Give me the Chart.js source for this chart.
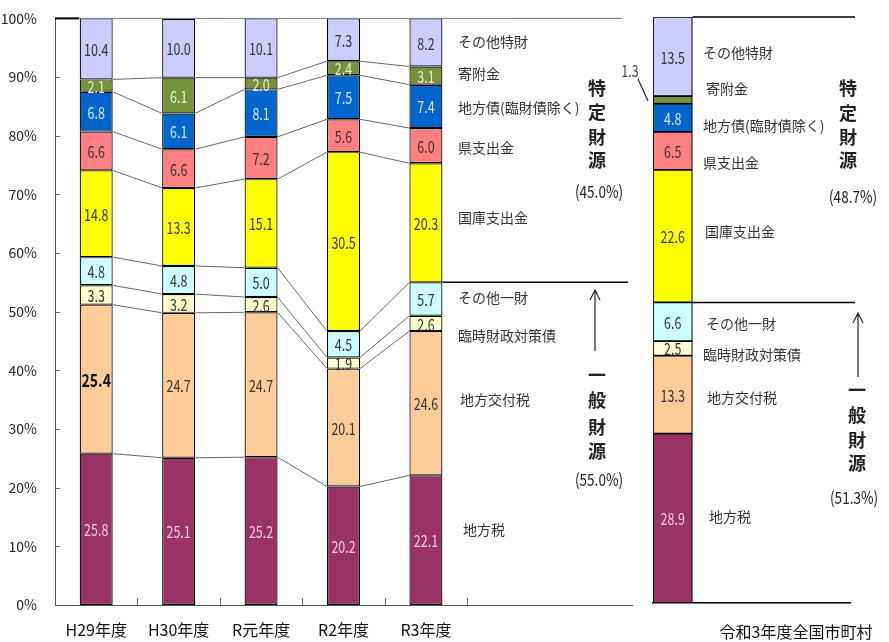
<!DOCTYPE html>
<html>
<head>
<meta charset="utf-8">
<script src="https://cdn.jsdelivr.net/npm/chart.js@4"></script>
<style>
html,body{margin:0;padding:0;background:#fff;}
#wrap{position:relative;width:889px;height:642px;overflow:hidden;}
#c1{position:absolute;left:0;top:0;}
#c2{position:absolute;left:610px;top:0;}
</style>
</head>
<body>
<div id="wrap">
<canvas id="c1" width="640" height="642"></canvas>
<canvas id="c2" width="279" height="642"></canvas>
</div>
<script>
// categories
const years = ['H29年度', 'H30年度', 'R元年度', 'R2年度', 'R3年度'];
const nationLabel = '令和3年度全国市町村';
const items = ['地方税', '地方交付税', '臨時財政対策債', 'その他一財', '国庫支出金', '県支出金', '地方債(臨財債除く)', '寄附金', 'その他特財'];

// series values (%), bottom to top
const localTax      = [25.8, 25.1, 25.2, 20.2, 22.1];
const allocationTax = [25.4, 24.7, 24.7, 20.1, 24.6];
const rinzaiBonds   = [3.3, 3.2, 2.6, 1.9, 2.6];
const otherGeneral  = [4.8, 4.8, 5.0, 4.5, 5.7];
const treasury      = [14.8, 13.3, 15.1, 30.5, 20.3];
const prefecture    = [6.6, 6.6, 7.2, 5.6, 6.0];
const localBonds    = [6.8, 6.1, 8.1, 7.5, 7.4];
const donations     = [2.1, 6.1, 2.0, 2.4, 3.1];
const otherSpecific = [10.4, 10.0, 10.1, 7.3, 8.2];

// 令和3年度全国市町村, same order as items
const nation = [28.9, 13.3, 2.5, 6.6, 22.6, 6.5, 4.8, 1.3, 13.5];

// tick labels
const yTicks = ['0%', '10%', '20%', '30%', '40%', '50%', '60%', '70%', '80%', '90%', '100%'];

const series = [localTax, allocationTax, rinzaiBonds, otherGeneral, treasury, prefecture, localBonds, donations, otherSpecific];
const colors = ['#993366', '#FFCC99', '#FFFFCC', '#CCFFFF', '#FFFF00', '#FF8080', '#0066CC', '#76923C', '#CCCCFF'];
const textColors = ['#F4CDEA', '#333', '#333', '#333', '#333', '#333', '#D6E8FF', '#E8EDD6', '#333'];

const JP = "'Noto Sans CJK JP', sans-serif";

const sum = arr => Math.round(arr.reduce((a, b) => a + b, 0) * 10) / 10;
const last = years.length - 1;
const r3General = sum(series.slice(0, 4).map(s => s[last]));
const nationGeneral = sum(nation.slice(0, 4));

// the original uses a tall narrow face, so squeeze the text a bit
function narrowText(ctx, str, x, y, sx) {
  ctx.save();
  ctx.translate(x, y);
  ctx.scale(sx || 0.8, 1);
  ctx.fillText(str, 0, 0);
  ctx.restore();
}

/*
-------------------------------------
/// plugins
-------------------------------------
*/
const valueLabels = {
  id: 'valueLabels',
  afterDatasetsDraw(chart) {
    const ctx = chart.ctx;
    ctx.save();
    ctx.textAlign = 'center';
    ctx.textBaseline = 'middle';
    chart.data.datasets.forEach((ds, di) => {
      chart.getDatasetMeta(di).data.forEach((el, i) => {
        const v = ds.data[i];
        if (v == null || v < 1.5) return;
        let font = '16px ' + JP;
        let col = textColors[di];
        // H29 地方交付税 is emphasised in the original
        if (chart.canvas.id === 'c1' && di === 1 && i === 0) {
          font = 'bold 18px ' + JP;
          col = '#111';
        }
        ctx.font = font;
        ctx.fillStyle = col;
        narrowText(ctx, v.toFixed(1), el.x, (el.y + el.base) / 2 + 1, 0.78);
      });
    });
    ctx.restore();
  }
};

const connectors = {
  id: 'connectors',
  beforeDatasetsDraw(chart) {
    const ctx = chart.ctx;
    ctx.save();
    ctx.strokeStyle = '#666';
    ctx.lineWidth = 1;
    for (let di = 0; di < chart.data.datasets.length - 1; di++) {
      const els = chart.getDatasetMeta(di).data;
      for (let i = 0; i < els.length - 1; i++) {
        const a = els[i], b = els[i + 1];
        ctx.beginPath();
        ctx.moveTo(a.x + a.width / 2, a.y);
        ctx.lineTo(b.x - b.width / 2, b.y);
        ctx.stroke();
      }
    }
    ctx.restore();
  }
};

function vText(ctx, str, x, ys) {
  ctx.font = 'bold 18px ' + JP;
  ctx.textAlign = 'center';
  ctx.textBaseline = 'middle';
  str.split('').forEach((ch, k) => ctx.fillText(ch, x, ys[k]));
}

function arrowUp(ctx, x, y1, y2) {
  ctx.beginPath();
  ctx.moveTo(x, y2);
  ctx.lineTo(x, y1);
  ctx.moveTo(x - 5, y1 + 10);
  ctx.lineTo(x, y1);
  ctx.lineTo(x + 5, y1 + 10);
  ctx.stroke();
}

const mainNotes = {
  id: 'mainNotes',
  afterDraw(chart) {
    const ctx = chart.ctx;
    const area = chart.chartArea;
    const ys = chart.scales.y, xs = chart.scales.x;
    const lastBar = chart.getDatasetMeta(0).data[last];
    const barRight = lastBar.x + lastBar.width / 2;
    ctx.save();
    // top line
    ctx.strokeStyle = '#777';
    ctx.lineWidth = 1;
    ctx.beginPath();
    ctx.moveTo(area.left, ys.getPixelForValue(100));
    ctx.lineTo(622, ys.getPixelForValue(100));
    ctx.stroke();
    ctx.strokeStyle = '#000';
    ctx.lineWidth = 2;
    ctx.beginPath();
    ctx.moveTo(area.left, ys.getPixelForValue(100));
    ctx.lineTo(area.left + 24, ys.getPixelForValue(100));
    ctx.stroke();
    // general / specific boundary
    ctx.lineWidth = 1.5;
    ctx.beginPath();
    ctx.moveTo(barRight, ys.getPixelForValue(r3General));
    ctx.lineTo(628, ys.getPixelForValue(r3General));
    ctx.stroke();
    // small ticks
    ctx.strokeStyle = '#666';
    ctx.lineWidth = 1;
    for (let i = 0; i < years.length; i++) {
      const x = Math.round((xs.getPixelForTick(i) + xs.getPixelForTick(i + 1)) / 2) + 0.5;
      ctx.beginPath();
      ctx.moveTo(x, area.bottom);
      ctx.lineTo(x, area.bottom - 7);
      ctx.stroke();
    }
    for (let v = 10; v < 100; v += 10) {
      const y = Math.round(ys.getPixelForValue(v)) + 0.5;
      ctx.beginPath();
      ctx.moveTo(area.left, y);
      ctx.lineTo(area.left + 5, y);
      ctx.stroke();
    }
    // item labels
    ctx.fillStyle = '#333';
    ctx.font = '14px ' + JP;
    ctx.textAlign = 'left';
    ctx.textBaseline = 'middle';
    const labelY = [530, 400, 336, 298, 218, 148, 108, 74, 42];
    const labelX = [463, 460, 458, 458, 458, 458, 458, 458, 458];
    items.forEach((t, k) => ctx.fillText(t, labelX[k], labelY[k]));
    // group labels
    ctx.fillStyle = '#222';
    vText(ctx, '特定財源', 597, [88, 112, 137, 160]);
    vText(ctx, '一般財源', 597, [375, 400, 427, 451]);
    ctx.font = '17px ' + JP;
    narrowText(ctx, '(' + (100 - r3General).toFixed(1) + '%)', 599, 192, 0.8);
    narrowText(ctx, '(' + r3General.toFixed(1) + '%)', 599, 480, 0.8);
    ctx.strokeStyle = '#222';
    ctx.lineWidth = 1.2;
    arrowUp(ctx, 595, 290, 351);
    ctx.restore();
  }
};

const nationNotes = {
  id: 'nationNotes',
  afterDraw(chart) {
    const ctx = chart.ctx;
    const ys = chart.scales.y;
    const bar = chart.getDatasetMeta(0).data[0];
    const barRight = bar.x + bar.width / 2;
    const ox = 610; // canvas offset on the page
    ctx.save();
    ctx.strokeStyle = '#000';
    ctx.lineWidth = 1.5;
    ctx.beginPath();
    ctx.moveTo(barRight, ys.getPixelForValue(100));
    ctx.lineTo(855 - ox, ys.getPixelForValue(100));
    ctx.moveTo(barRight, ys.getPixelForValue(nationGeneral));
    ctx.lineTo(855 - ox, ys.getPixelForValue(nationGeneral));
    ctx.stroke();
    // donation value outside the bar
    const don = chart.getDatasetMeta(7).data[0];
    ctx.lineWidth = 1.2;
    ctx.strokeStyle = '#222';
    ctx.beginPath();
    ctx.moveTo(638 - ox, 79);
    ctx.lineTo(don.x - don.width / 2 - 5, (don.y + don.base) / 2 + 1);
    ctx.stroke();
    ctx.fillStyle = '#444';
    ctx.font = '16px ' + JP;
    ctx.textAlign = 'center';
    ctx.textBaseline = 'middle';
    narrowText(ctx, nation[7].toFixed(1), 630 - ox, 71, 0.78);
    // item labels
    ctx.fillStyle = '#333';
    ctx.font = '14px ' + JP;
    ctx.textAlign = 'left';
    const labelY = [517, 398, 355, 324, 232, 163, 126, 89, 53];
    const labelX = [709, 707, 703, 706, 705, 703, 703, 706, 703];
    items.forEach((t, k) => ctx.fillText(t, labelX[k] - ox, labelY[k]));
    ctx.fillStyle = '#222';
    vText(ctx, '特定財源', 848 - ox, [88, 113, 137, 160]);
    vText(ctx, '一般財源', 857 - ox, [390, 415, 440, 463]);
    ctx.font = '17px ' + JP;
    ctx.textAlign = 'left';
    narrowText(ctx, '(' + (100 - nationGeneral).toFixed(1) + '%)', 829 - ox, 197, 0.8);
    narrowText(ctx, '(' + nationGeneral.toFixed(1) + '%)', 830 - ox, 498, 0.8);
    ctx.strokeStyle = '#222';
    ctx.lineWidth = 1.2;
    arrowUp(ctx, 858 - ox, 313, 377);
    // category label
    ctx.fillStyle = '#111';
    ctx.font = '16px ' + JP;
    ctx.textAlign = 'center';
    ctx.fillText(nationLabel, 796 - ox, 632);
    ctx.restore();
  }
};

/*
-------------------------------------
/// charts
-------------------------------------
*/
const barStyle = {
  borderColor: '#000',
  borderWidth: 1.2,
  borderSkipped: false,
  categoryPercentage: 1
};

new Chart(document.getElementById('c1'), {
  type: 'bar',
  data: {
    labels: years.concat(['', '']),
    datasets: series.map((s, k) => Object.assign({
      label: items[k],
      data: s,
      backgroundColor: colors[k],
      barPercentage: 0.4
    }, barStyle))
  },
  options: {
    responsive: false,
    animation: false,
    layout: { padding: { top: 18, right: 8, left: 0, bottom: 0 } },
    plugins: { legend: { display: false }, tooltip: { enabled: false } },
    scales: {
      x: {
        stacked: true,
        grid: { display: false },
        border: { color: '#555' },
        ticks: { color: '#111', font: { size: 16, family: JP }, padding: 7, maxRotation: 0, autoSkip: false },
        afterFit: s => { s.height = 37; }
      },
      y: {
        stacked: true,
        min: 0,
        max: 100,
        grid: { display: false },
        border: { color: '#555' },
        ticks: {
          stepSize: 10,
          color: '#222',
          padding: 10,
          font: { size: 14, family: JP },
          callback: (v, i) => yTicks[i]
        },
        afterFit: s => { s.width = 55; }
      }
    }
  },
  plugins: [connectors, valueLabels, mainNotes]
});

new Chart(document.getElementById('c2'), {
  type: 'bar',
  data: {
    labels: [nationLabel, '', '', '', ''],
    datasets: nation.map((v, k) => Object.assign({
      label: items[k],
      data: [v],
      backgroundColor: colors[k],
      barPercentage: 1
    }, barStyle))
  },
  options: {
    responsive: false,
    animation: false,
    layout: { padding: { top: 17, right: 39, left: 43, bottom: 39 } },
    plugins: { legend: { display: false }, tooltip: { enabled: false } },
    scales: {
      x: {
        stacked: true,
        grid: { display: false },
        border: { color: '#000', width: 1.5 },
        ticks: { display: false },
        afterFit: s => { s.height = 0; }
      },
      y: { stacked: true, display: false, min: 0, max: 100 }
    }
  },
  plugins: [valueLabels, nationNotes]
});
</script>
</body>
</html>
